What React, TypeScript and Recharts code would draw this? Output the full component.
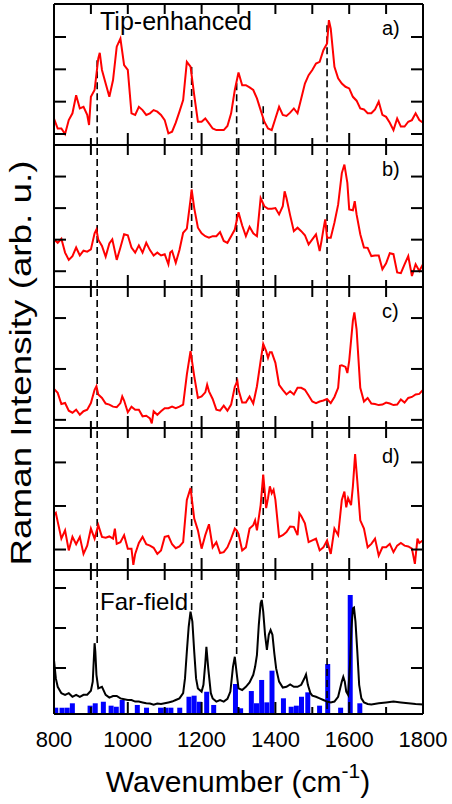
import React from 'react';
import { ComposedChart, BarChart, Line, Bar, XAxis, YAxis, ReferenceLine } from 'recharts';

const FONT = '"Liberation Sans", Arial, Helvetica, sans-serif';

// ---------- axes / annotation values ----------
const X_DOMAIN: [number, number] = [800, 1800];
const xTicks = [800, 900, 1000, 1100, 1200, 1300, 1400, 1500, 1600, 1700, 1800];
const xLabelStep = 200;
const peakPositions = [917, 1173, 1295, 1367, 1540];
const dashTopA = [2.28, 2.07, 1.57, 0.86, 3.36];
const dashBottomE = [1.62, 2.45, 1.33, 2.75, -0.15];

// ---------- a) tip-enhanced ----------
const waveA = [800, 810, 820, 830, 840, 850, 860, 870, 880, 890, 895, 900, 910, 920, 924, 930, 940, 950, 960, 970, 980, 990, 1000, 1010, 1020, 1030, 1040, 1050, 1060, 1070, 1080, 1090, 1100, 1110, 1120, 1130, 1140, 1150, 1160, 1170, 1180, 1190, 1200, 1210, 1220, 1230, 1240, 1250, 1260, 1270, 1280, 1290, 1300, 1310, 1320, 1330, 1340, 1350, 1360, 1370, 1380, 1390, 1400, 1410, 1420, 1430, 1440, 1450, 1460, 1470, 1480, 1490, 1500, 1510, 1520, 1530, 1540, 1545, 1550, 1560, 1570, 1580, 1590, 1600, 1610, 1620, 1630, 1640, 1650, 1660, 1670, 1680, 1690, 1700, 1710, 1720, 1730, 1740, 1750, 1760, 1770, 1780, 1790, 1800];
const intensityA = [0.48, 0.17, 0.17, 0.0, 0.43, 0.64, 1.2, 0.79, 0.84, 0.59, 0.28, 1.15, 1.36, 2.34, 2.51, 1.98, 1.56, 1.15, 1.67, 2.7, 2.95, 2.13, 1.98, 0.64, 0.59, 0.84, 0.74, 0.59, 0.64, 0.74, 0.69, 0.59, 0.43, 0.02, 0.07, 0.35, 0.69, 1.05, 2.23, 2.08, 1.2, 0.38, 0.38, 0.48, 0.33, 0.17, 0.12, 0.12, 0.12, 0.25, 0.64, 1.36, 1.9, 1.51, 1.51, 1.44, 1.36, 1.1, 0.74, 0.38, 0.17, 0.12, 0.48, 0.84, 0.59, 0.56, 0.66, 0.79, 0.64, 1.1, 1.56, 1.82, 1.98, 2.18, 2.23, 2.59, 2.8, 3.52, 3.26, 2.08, 1.72, 1.56, 1.46, 1.41, 1.15, 1.03, 0.79, 0.76, 0.64, 0.64, 0.76, 1.0, 0.59, 0.53, 0.35, 0.12, 0.48, 0.23, 0.23, 0.38, 0.43, 0.64, 0.43, 0.35];

// ---------- b) ----------
const waveB = [800, 810, 820, 830, 840, 850, 860, 870, 880, 890, 900, 910, 915, 920, 930, 940, 950, 958, 970, 980, 990, 1000, 1010, 1020, 1030, 1040, 1050, 1060, 1070, 1080, 1090, 1100, 1110, 1115, 1120, 1130, 1140, 1150, 1160, 1170, 1173, 1180, 1190, 1200, 1210, 1220, 1230, 1240, 1250, 1260, 1270, 1280, 1290, 1300, 1310, 1320, 1330, 1340, 1350, 1360, 1370, 1380, 1390, 1400, 1410, 1420, 1425, 1430, 1440, 1450, 1460, 1470, 1480, 1490, 1500, 1510, 1520, 1525, 1530, 1535, 1540, 1550, 1560, 1570, 1580, 1587, 1595, 1600, 1610, 1615, 1620, 1630, 1640, 1650, 1660, 1670, 1680, 1690, 1700, 1710, 1720, 1730, 1740, 1750, 1760, 1770, 1780, 1790, 1800];
const intensityB = [1.01, 0.9, 1.03, 0.59, 0.36, 0.48, 0.75, 0.5, 0.65, 0.62, 0.69, 1.2, 1.32, 1.0, 0.8, 0.46, 0.88, 1.01, 0.36, 0.75, 1.17, 1.14, 0.75, 0.59, 0.82, 0.59, 0.9, 0.67, 0.5, 0.59, 0.5, 0.54, 0.22, 0.59, 0.64, 0.27, 0.67, 1.22, 1.35, 2.27, 2.59, 2.0, 1.38, 1.2, 1.11, 1.06, 1.11, 1.11, 1.24, 0.96, 0.9, 1.11, 1.32, 1.87, 1.45, 1.11, 1.41, 1.2, 1.11, 2.32, 2.06, 1.98, 1.98, 2.0, 1.8, 2.06, 2.53, 2.32, 1.77, 1.27, 1.38, 1.27, 1.14, 0.85, 1.01, 1.17, 0.64, 0.96, 1.32, 1.64, 1.06, 1.06, 1.54, 2.11, 3.11, 3.38, 2.8, 1.96, 1.93, 2.22, 1.8, 1.17, 0.75, 0.74, 0.48, 0.5, 0.5, 0.06, 0.25, 0.57, 0.54, -0.04, -0.06, 0.22, 0.48, -0.15, 0.22, 0.01, 0.22];

// ---------- c) ----------
const waveC = [800, 810, 820, 830, 840, 850, 860, 870, 880, 890, 900, 910, 915, 920, 930, 940, 950, 960, 970, 980, 985, 990, 1000, 1010, 1020, 1030, 1040, 1050, 1060, 1065, 1070, 1080, 1090, 1100, 1110, 1120, 1130, 1140, 1150, 1160, 1170, 1180, 1190, 1200, 1210, 1215, 1220, 1230, 1240, 1250, 1260, 1270, 1280, 1290, 1297, 1300, 1310, 1320, 1330, 1340, 1350, 1360, 1367, 1375, 1380, 1385, 1390, 1400, 1410, 1420, 1430, 1440, 1450, 1460, 1470, 1480, 1490, 1500, 1510, 1520, 1530, 1540, 1550, 1560, 1570, 1575, 1580, 1590, 1595, 1600, 1610, 1614, 1620, 1630, 1640, 1650, 1660, 1670, 1680, 1690, 1700, 1710, 1720, 1730, 1740, 1750, 1760, 1770, 1780, 1790, 1800];
const intensityC = [0.61, 0.53, 0.31, 0.33, 0.18, 0.14, 0.2, 0.1, 0.17, 0.2, 0.33, 0.59, 0.66, 0.5, 0.43, 0.32, 0.3, 0.26, 0.25, 0.33, 0.46, 0.38, 0.15, 0.26, 0.2, 0.2, 0.07, 0.08, 0.03, -0.07, 0.17, 0.1, 0.17, 0.23, 0.23, 0.26, 0.23, 0.26, 0.3, 0.89, 1.35, 0.86, 0.43, 0.46, 0.54, 0.69, 0.56, 0.41, 0.2, 0.18, 0.28, 0.18, 0.3, 0.65, 0.76, 0.59, 0.34, 0.34, 0.46, 0.32, 0.66, 1.16, 1.49, 1.35, 1.22, 1.33, 1.33, 1.12, 0.69, 0.59, 0.5, 0.56, 0.5, 0.63, 0.63, 0.59, 0.48, 0.36, 0.33, 0.36, 0.38, 0.41, 0.33, 0.45, 0.63, 1.06, 1.07, 1.04, 0.92, 1.16, 1.95, 2.11, 1.78, 0.63, 0.36, 0.43, 0.32, 0.31, 0.29, 0.3, 0.34, 0.32, 0.29, 0.3, 0.4, 0.34, 0.43, 0.45, 0.5, 0.51, 0.59];

// ---------- d) ----------
const waveD = [800, 805, 810, 820, 830, 840, 850, 860, 870, 880, 890, 900, 910, 920, 930, 940, 950, 960, 965, 970, 980, 990, 1000, 1010, 1015, 1020, 1030, 1040, 1050, 1060, 1070, 1080, 1090, 1100, 1110, 1120, 1130, 1140, 1150, 1160, 1170, 1180, 1190, 1200, 1210, 1220, 1230, 1240, 1250, 1260, 1270, 1280, 1290, 1295, 1300, 1310, 1320, 1330, 1340, 1345, 1350, 1360, 1367, 1375, 1380, 1385, 1390, 1395, 1400, 1410, 1420, 1430, 1440, 1450, 1460, 1465, 1470, 1480, 1490, 1500, 1510, 1520, 1530, 1540, 1550, 1560, 1570, 1580, 1587, 1592, 1597, 1605, 1610, 1616, 1622, 1630, 1640, 1650, 1660, 1670, 1680, 1690, 1700, 1710, 1720, 1730, 1740, 1750, 1760, 1770, 1778, 1785, 1790, 1800];
const intensityD = [0.79, 0.84, 0.64, 0.25, 0.44, -0.02, 0.29, 0.12, 0.29, -0.1, 0.09, 0.48, 0.25, 0.56, 0.29, 0.27, 0.3, 0.25, 0.48, 0.13, 0.17, 0.33, 0.02, 0.02, -0.35, -0.1, 0.15, 0.29, 0.12, 0.09, 0.04, -0.1, -0.02, 0.29, 0.31, 0.12, 0.03, 0.07, 0.17, 1.14, 1.41, 0.71, 0.44, 0.02, 0.33, 0.58, 0.05, 0.17, -0.08, -0.06, 0.05, 0.25, 0.48, 0.44, 0.36, -0.02, 0.05, 0.48, 0.56, 0.67, 0.44, 1.02, 1.72, 0.95, 1.18, 1.45, 1.29, 1.37, 1.14, 0.29, 0.33, 0.4, 0.53, 0.52, 0.33, 0.83, 0.77, 0.6, 0.17, 0.21, 0.25, -0.02, 0.05, 0.21, -0.1, 0.48, 0.33, 1.14, 1.33, 0.97, 1.18, 1.02, 1.45, 2.19, 1.57, 0.67, 0.48, 0.05, 0.13, 0.25, -0.14, 0.05, 0.05, 0.13, -0.06, 0.09, 0.15, 0.09, 0.07, 0.02, -0.33, 0.25, 0.15, 0.21];

// ---------- far-field spectrum ----------
const waveFar = [800, 805, 810, 820, 830, 840, 850, 860, 870, 880, 890, 900, 905, 910, 912, 915, 920, 930, 940, 950, 960, 970, 980, 990, 1000, 1010, 1020, 1030, 1040, 1050, 1060, 1070, 1080, 1090, 1100, 1110, 1120, 1130, 1140, 1150, 1155, 1160, 1165, 1170, 1175, 1180, 1185, 1190, 1200, 1205, 1210, 1213, 1218, 1225, 1230, 1240, 1250, 1260, 1270, 1278, 1285, 1290, 1295, 1300, 1310, 1320, 1330, 1340, 1345, 1350, 1355, 1360, 1363, 1367, 1372, 1377, 1382, 1387, 1392, 1397, 1402, 1410, 1420, 1430, 1440, 1450, 1460, 1470, 1478, 1483, 1488, 1495, 1500, 1510, 1520, 1530, 1540, 1550, 1560, 1570, 1580, 1584, 1588, 1592, 1597, 1602, 1606, 1610, 1613, 1617, 1622, 1627, 1633, 1640, 1650, 1660, 1680, 1700, 1720, 1740, 1760, 1780, 1800];
const intensityFar = [1.2, 0.74, 0.53, 0.37, 0.33, 0.37, 0.28, 0.33, 0.28, 0.33, 0.33, 0.43, 0.66, 1.62, 1.41, 0.83, 0.49, 0.53, 0.33, 0.26, 0.3, 0.3, 0.24, 0.22, 0.2, 0.2, 0.16, 0.16, 0.14, 0.12, 0.11, 0.08, 0.11, 0.1, 0.12, 0.14, 0.16, 0.2, 0.24, 0.37, 0.74, 1.41, 2.03, 2.41, 2.16, 1.41, 0.74, 0.49, 0.41, 0.58, 1.12, 1.53, 0.99, 0.37, 0.24, 0.16, 0.2, 0.16, 0.23, 0.41, 1.03, 1.28, 0.87, 0.49, 0.45, 0.53, 0.64, 0.83, 1.03, 1.33, 2.08, 2.62, 2.7, 2.41, 1.83, 1.45, 1.83, 1.95, 1.83, 1.37, 0.99, 0.66, 0.51, 0.53, 0.59, 0.53, 0.53, 0.58, 0.73, 0.84, 0.58, 0.37, 0.31, 0.28, 0.24, 0.2, 0.16, 0.14, 0.16, 0.28, 0.66, 0.78, 0.66, 0.41, 0.33, 1.08, 1.99, 2.49, 2.51, 2.16, 1.41, 0.58, 0.24, 0.14, 0.1, 0.09, 0.12, 0.14, 0.16, 0.14, 0.12, 0.1, 0.09];

// ---------- calculated modes (blue bars, relative intensity) ----------
const modeWave = [805, 822, 836, 850, 898, 912, 934, 955, 969, 985, 1026, 1051, 1089, 1103, 1117, 1141, 1166, 1180, 1194, 1214, 1233, 1292, 1306, 1335, 1349, 1363, 1377, 1391, 1422, 1443, 1457, 1471, 1488, 1520, 1542, 1577, 1603, 1629];
const modeIntensity = [5.3, 5.3, 5.3, 9, 7, 9, 10.3, 7, 6.1, 11.8, 7.6, 5.3, 5.3, 5.3, 5.3, 5.3, 14.5, 15.4, 10.3, 18.7, 7.6, 25.2, 4.8, 19.3, 9, 28.6, 9.8, 36.4, 13.2, 6.1, 7, 14.5, 18.2, 7, 42, 5.3, 100, 9];

const toRows = (w: number[], v: number[]) => w.map((wn, i) => ({ wn, v: v[i] }));
const dataA = toRows(waveA, intensityA);
const dataB = toRows(waveB, intensityB);
const dataC = toRows(waveC, intensityC);
const dataD = toRows(waveD, intensityD);
const dataFar = toRows(waveFar, intensityFar);
const dataModes = modeWave.map((wn, i) => ({ wn, h: modeIntensity[i] }));

const W = 452;
const LEFT = 54;
const RIGHT = 29;
const PAD = 2;
const LABEL_AXIS_H = 40;
const TINY = 0.01;
const blackStroke = { stroke: '#000', strokeWidth: 2 };
const dashProps = { stroke: '#000', strokeWidth: 1.6, strokeDasharray: '7 4' };

// tick renderers (lines drawn inward from the axis coordinate recharts provides)
const bottomTick = (withLabel: boolean) => (props: any) => {
  const { x, y, payload } = props;
  const major = payload.value % xLabelStep === 0;
  return (
    <g>
      <line x1={x} x2={x} y1={y} y2={y - (major ? 12 : 7)} stroke="#000" strokeWidth={2} />
      {withLabel && major ? (
        <text x={x} y={y + 33} textAnchor="middle" fontSize={22} fontFamily={FONT} fill="#000">
          {payload.value}
        </text>
      ) : null}
    </g>
  );
};
const topTick = (props: any) => (
  <line x1={props.x} x2={props.x} y1={props.y} y2={props.y + 10} stroke="#000" strokeWidth={2} />
);
const leftTick = (props: any) => (
  <line x1={props.x} x2={props.x + 12} y1={props.y} y2={props.y} stroke="#000" strokeWidth={2} />
);
const rightTick = (props: any) => (
  <line x1={props.x} x2={props.x - 12} y1={props.y} y2={props.y} stroke="#000" strokeWidth={2} />
);

function frameAxes(yDomain: [number, number], yTicks: number[], withLabels: boolean) {
  return [
    <XAxis key="xb" xAxisId="main" dataKey="wn" type="number" domain={X_DOMAIN} ticks={xTicks} interval={0}
      orientation="bottom" mirror height={TINY} tick={bottomTick(withLabels)} tickSize={0} tickMargin={0}
      axisLine={blackStroke} tickLine={false} allowDataOverflow />,
    <XAxis key="xt" xAxisId="top" dataKey="wn" type="number" domain={X_DOMAIN} ticks={xTicks.slice(1, -1)} interval={0}
      orientation="top" mirror height={TINY} tick={topTick} tickSize={0} tickMargin={0}
      axisLine={blackStroke} tickLine={false} allowDataOverflow />,
    <YAxis key="yl" yAxisId="main" type="number" domain={yDomain} ticks={yTicks} interval={0}
      orientation="left" mirror width={TINY} tick={leftTick} tickSize={0} tickMargin={0}
      axisLine={blackStroke} tickLine={false} allowDataOverflow />,
    <YAxis key="yr" yAxisId="right" type="number" domain={yDomain} ticks={yTicks} interval={0}
      orientation="right" mirror width={TINY} tick={rightTick} tickSize={0} tickMargin={0}
      axisLine={blackStroke} tickLine={false} allowDataOverflow />,
    // invisible series that binds the top/right frame axes to the same data range
    <Line key="bind" xAxisId="top" yAxisId="right" type="linear" dataKey="v" stroke="none" strokeWidth={0}
      dot={false} activeDot={false} isAnimationActive={false} />,
  ];
}

type PanelProps = {
  top: number;
  height: number;
  data: { wn: number; v: number }[];
  yDomain: [number, number];
  yTicks: number[];
  mode: 'top' | 'full';
};

function TipPanel({ top, height, data, yDomain, yTicks, mode }: PanelProps) {
  return (
    <div style={{ position: 'absolute', left: 0, top: top - PAD }}>
      <ComposedChart width={W} height={height + 2 * PAD} data={data}
        margin={{ top: PAD, right: RIGHT, bottom: PAD, left: LEFT }}>
        {frameAxes(yDomain, yTicks, false)}
        {peakPositions.map((p, i) =>
          mode === 'full' ? (
            <ReferenceLine key={'d' + p} xAxisId="main" yAxisId="main" x={p} {...dashProps} />
          ) : (
            <ReferenceLine key={'d' + p} xAxisId="main" yAxisId="main"
              segment={[{ x: p, y: dashTopA[i] }, { x: p, y: yDomain[0] }]} {...dashProps} />
          )
        )}
        <Line xAxisId="main" yAxisId="main" type="linear" dataKey="v" stroke="#ff0000" strokeWidth={2}
          dot={false} activeDot={false} isAnimationActive={false} />
      </ComposedChart>
    </div>
  );
}

const FAR_TOP = 570;
const FAR_H = 144;
const farDomain: [number, number] = [-0.15, 3.45];
const modeDomain: [number, number] = [0, 121];

function FarPanel() {
  const h = FAR_H + 2 * PAD + LABEL_AXIS_H;
  const margin = { top: PAD, right: RIGHT, bottom: PAD + LABEL_AXIS_H, left: LEFT };
  return (
    <>
      <div style={{ position: 'absolute', left: 0, top: FAR_TOP - PAD }}>
        <BarChart width={W} height={h} data={dataModes} margin={margin}>
          <XAxis xAxisId="main" dataKey="wn" type="number" domain={X_DOMAIN} hide allowDataOverflow />
          <YAxis yAxisId="bars" type="number" domain={modeDomain} hide allowDataOverflow />
          <YAxis yAxisId="main" type="number" domain={farDomain} hide allowDataOverflow />
          {peakPositions.map((p, i) => (
            <ReferenceLine key={'e' + p} xAxisId="main" yAxisId="main"
              segment={[{ x: p, y: farDomain[1] }, { x: p, y: dashBottomE[i] }]} {...dashProps} />
          ))}
          <Bar xAxisId="main" yAxisId="bars" dataKey="h" fill="#0000ff" barSize={5} isAnimationActive={false} />
        </BarChart>
      </div>
      <div style={{ position: 'absolute', left: 0, top: FAR_TOP - PAD }}>
        <ComposedChart width={W} height={h} data={dataFar} margin={margin}>
          {frameAxes(farDomain, [1, 2, 3], true)}
          <Line xAxisId="main" yAxisId="main" type="linear" dataKey="v" stroke="#000" strokeWidth={2}
            dot={false} activeDot={false} isAnimationActive={false} />
        </ComposedChart>
      </div>
    </>
  );
}

export default function App() {
  return (
    <div style={{ position: 'absolute', left: 0, top: 0, width: 452, height: 804, background: '#fff', overflow: 'hidden' }}>
      <TipPanel top={4} height={141} data={dataA} yDomain={[-0.34, 4.02]} yTicks={[0, 1, 2, 3]} mode="top" />
      <TipPanel top={145} height={142} data={dataB} yDomain={[-0.5, 4.0]} yTicks={[0, 1, 2, 3]} mode="full" />
      <TipPanel top={287} height={141} data={dataC} yDomain={[-0.16, 2.61]} yTicks={[0, 1, 2]} mode="full" />
      <TipPanel top={428} height={142} data={dataD} yDomain={[-0.47, 2.79]} yTicks={[0, 1, 2]} mode="full" />
      <FarPanel />
      <svg width={452} height={804} style={{ position: 'absolute', left: 0, top: 0, pointerEvents: 'none' }}
        fontFamily={FONT} fill="#000">
        <text x={100} y={30} fontSize={25}>Tip-enhanced</text>
        <text x={382} y={35} fontSize={20}>a)</text>
        <text x={382} y={176} fontSize={20}>b)</text>
        <text x={382} y={318} fontSize={20}>c)</text>
        <text x={382} y={463} fontSize={20}>d)</text>
        <text x={100} y={610} fontSize={24}>Far-field</text>
        <text x={31} y={363} fontSize={30} textAnchor="middle" textLength={405} lengthAdjust="spacingAndGlyphs"
          transform="rotate(-90 31 363)">
          Raman Intensity (arb. u.)
        </text>
        <text x={238} y={792} fontSize={30} textAnchor="middle">
          Wavenumber (cm<tspan fontSize={21} dy={-14}>-1</tspan><tspan dy={14}>)</tspan>
        </text>
      </svg>
    </div>
  );
}
